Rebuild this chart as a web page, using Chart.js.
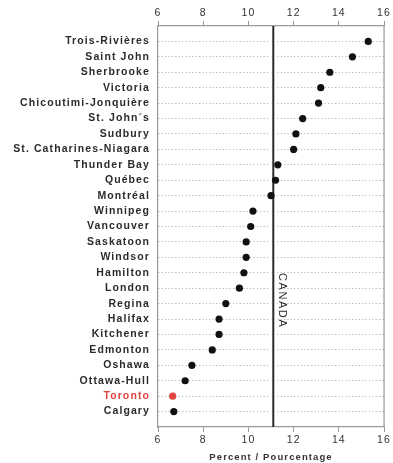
<!DOCTYPE html>
<html>
<head>
<meta charset="utf-8">
<script src="https://cdn.jsdelivr.net/npm/chart.js@4"></script>
<style>
  html, body { margin: 0; padding: 0; background: #fff; }
  #wrap { width: 393px; height: 463px; position: relative; }
</style>
</head>
<body>
<div id="wrap"><canvas id="chart"></canvas></div>
<script>
// Data
const cities = ['Trois-Rivières', 'Saint John', 'Sherbrooke', 'Victoria', 'Chicoutimi-Jonquière',
  "St. John´s", 'Sudbury', 'St. Catharines-Niagara', 'Thunder Bay', 'Québec', 'Montréal',
  'Winnipeg', 'Vancouver', 'Saskatoon', 'Windsor', 'Hamilton', 'London', 'Regina', 'Halifax',
  'Kitchener', 'Edmonton', 'Oshawa', 'Ottawa-Hull', 'Toronto', 'Calgary'];
const percent = [15.3, 14.6, 13.6, 13.2, 13.1, 12.4, 12.1, 12.0, 11.3, 11.2, 11.0,
  10.2, 10.1, 9.9, 9.9, 9.8, 9.6, 9.0, 8.7, 8.7, 8.4, 7.5, 7.2, 6.65, 6.7];
const canadaValue = 11.1;
const xTicks = [6, 8, 10, 12, 14, 16];
const highlight = 'Toronto';

const FONT = '"Liberation Sans", Arial, sans-serif';
const RED = '#e0443e';

// padded with blank rows so first/last city sit one row inside the frame
const labels = [''].concat(cities, ['']);
const values = [null].concat(percent, [null]);

// letter spacing for all canvas text
const spacing = {
  id: 'spacing',
  beforeUpdate(chart) { chart.ctx.letterSpacing = '1.1px'; },
  beforeDraw(chart) { chart.ctx.letterSpacing = '1.1px'; }
};

// Canada reference line, label and right frame edge
const canadaLine = {
  id: 'canadaLine',
  beforeDatasetsDraw(chart) {
    const { ctx, chartArea: a, scales } = chart;
    const x = scales.x.getPixelForValue(canadaValue);
    ctx.save();
    ctx.fillStyle = '#fff';
    ctx.fillRect(x - 4, a.top + 1, 8, a.bottom - a.top - 2);
    ctx.strokeStyle = '#999';
    ctx.lineWidth = 1.2;
    ctx.beginPath();
    ctx.moveTo(a.right, a.top);
    ctx.lineTo(a.right, a.bottom);
    ctx.stroke();
    ctx.strokeStyle = '#2b2b2b';
    ctx.lineWidth = 2;
    ctx.beginPath();
    ctx.moveTo(x, a.top);
    ctx.lineTo(x, a.bottom);
    ctx.stroke();
    ctx.translate(x + 9, scales.y.getPixelForValue(18) - 3);
    ctx.rotate(Math.PI / 2);
    ctx.letterSpacing = '1.6px';
    ctx.font = '11px ' + FONT;
    ctx.fillStyle = '#2b2b2b';
    ctx.textAlign = 'center';
    ctx.textBaseline = 'middle';
    ctx.fillText('CANADA', 0, 0);
    ctx.restore();
  }
};

const xAxis = (position) => ({
  type: 'linear',
  position: position,
  display: true,
  min: 6,
  max: 16,
  afterBuildTicks: (s) => { s.ticks = xTicks.map(v => ({ value: v })); },
  grid: { drawOnChartArea: false, drawTicks: true, tickLength: 5, color: '#999', lineWidth: 1 },
  border: { display: true, color: '#999', width: 1.2 },
  ticks: { color: '#333', font: { family: FONT, size: 10.5 }, padding: 2 }
});

const bottomAxis = xAxis('bottom');
bottomAxis.title = {
  display: true,
  text: 'Percent / Pourcentage',
  color: '#333',
  font: { family: FONT, size: 9.5, weight: 'bold' },
  padding: { top: 2, bottom: 0 }
};
bottomAxis.afterFit = (s) => { s.height = 36; };
const topAxis = xAxis('top');
topAxis.afterFit = (s) => { s.height = 26; };

new Chart(document.getElementById('chart'), {
  type: 'line',
  data: {
    labels: labels,
    datasets: [{
      data: values,
      xAxisID: 'x',
      showLine: false,
      pointRadius: 3.6,
      pointHoverRadius: 3.6,
      pointBorderWidth: 0,
      pointBackgroundColor: labels.map(l => l === highlight ? RED : '#111'),
      pointBorderColor: labels.map(l => l === highlight ? RED : '#111')
    }]
  },
  options: {
    indexAxis: 'y',
    responsive: true,
    maintainAspectRatio: false,
    animation: false,
    layout: { padding: { left: 0, right: 8, top: 0, bottom: 0 } },
    plugins: { legend: { display: false }, tooltip: { enabled: false } },
    scales: {
      x: topAxis,
      x2: bottomAxis,
      y: {
        type: 'category',
        offset: false,
        afterFit: (s) => { s.width = 158; },
        grid: {
          drawTicks: false,
          color: (c) => (c.index === 0 || c.index === labels.length - 1) ? 'rgba(0,0,0,0)' : '#b5b5b5',
          lineWidth: 1
        },
        border: { display: true, color: '#999', width: 1.2, dash: [1.2, 2.2] },
        ticks: {
          autoSkip: false,
          padding: 8,
          color: (c) => labels[c.index] === highlight ? RED : '#2b2b2b',
          font: { family: FONT, size: 10.5, weight: 'bold' }
        }
      }
    }
  },
  plugins: [spacing, canadaLine]
});
</script>
</body>
</html>
